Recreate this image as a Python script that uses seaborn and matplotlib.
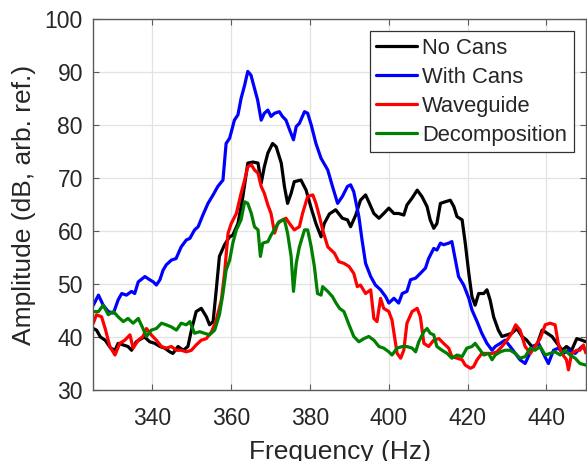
import matplotlib
matplotlib.use("Agg")
import matplotlib.pyplot as plt
import numpy as np
import pandas as pd
import seaborn as sns

freq_nocans = [325, 325.8, 326.8, 328, 329.4, 330.5, 331.3, 332.6, 333.8, 334.7, 335.9, 337.2, 338, 339.3,
               340.6, 341.9, 343.1, 344.4, 345.2, 346.5, 347.8, 349, 349.9, 351.1, 352.4, 353.7, 354.5, 355.4,
               356.2, 357, 358.3, 359.6, 360.4, 361.7, 362.9, 364.2, 365.5, 366.8, 367.6, 368.4, 369.3, 370.5,
               371.4, 372.7, 373.5, 374.3, 375.2, 376, 377.7, 379, 380.3, 381.5, 382.8, 383.6, 384.9, 386.5,
               388.2, 389.5, 390.3, 391.6, 392.8, 394.1, 394.9, 396.2, 397.5, 398.7, 400, 401.3, 402.5, 403.8,
               404.6, 405.9, 407.2, 408.4, 409.7, 410.5, 411.4, 412.2, 413.1, 414.3, 415.6, 416.5, 417.3, 418.6,
               419.4, 420.3, 421.1, 421.9, 422.8, 424.1, 424.9, 425.7, 426.6, 427.8, 428.7, 430, 431.2, 432.5,
               433.8, 435, 436.3, 437.6, 438.9, 440.2, 441.4, 442.7, 444, 445.1, 446.4, 447.7, 449, 450]
amp_nocans = [41.6, 41.3, 40.0, 39.4, 37.9, 37.5, 38.8, 38.5, 38.2, 37.5, 39.1, 39.7, 40.0, 39.1,
              38.8, 38.2, 37.9, 37.2, 36.9, 38.2, 37.5, 38.2, 41.3, 44.8, 45.4, 43.8, 42.3, 42.9,
              48.9, 55.2, 57.4, 58.9, 59.2, 61.4, 66.2, 72.8, 73.0, 72.8, 69.0, 72.1, 74.7, 76.5,
              75.9, 72.8, 68.4, 65.2, 67.1, 69.3, 69.6, 67.7, 64.3, 61.4, 58.9, 61.4, 63.2, 64.0,
              62.4, 62.1, 60.8, 63.0, 65.8, 66.8, 65.5, 63.3, 62.4, 63.3, 64.3, 63.3, 63.3, 63.0,
              64.9, 66.2, 67.7, 66.5, 64.6, 62.1, 60.5, 61.4, 65.2, 65.5, 65.8, 64.6, 62.7, 62.1,
              57.7, 52.0, 47.6, 46.0, 48.2, 48.2, 48.9, 47.0, 43.8, 41.3, 40.1, 40.4, 40.7, 41.6,
              40.1, 39.4, 38.2, 38.5, 41.3, 40.7, 40.1, 38.8, 37.5, 38.2, 37.5, 39.7, 39.4, 39.1]

freq_cans = [325, 326.3, 327.5, 328.8, 330.1, 331.3, 332.2, 333.4, 334.7, 335.5, 336.4, 338.1, 339.3, 340.2,
             341, 341.9, 342.7, 343.5, 344.8, 346, 347.3, 348.6, 349.5, 350.7, 351.6, 352.8, 354.1, 355.4,
             356.6, 357.9, 358.7, 359.6, 360.8, 361.7, 362.5, 363.4, 364.2, 365, 365.9, 366.7, 367.6, 368.4,
             369.3, 370.1, 371, 372.2, 373, 373.9, 374.8, 375.8, 376.5, 377.3, 378.6, 379.4, 380.3, 381.5,
             382.8, 384.5, 385.7, 387, 388.2, 389.5, 390.3, 391.1, 392.4, 393.2, 394.1, 395.4, 396.6, 397.9,
             399.2, 400, 401.3, 402.5, 403.4, 404.6, 405.5, 406.8, 408, 409.3, 410.1, 411.4, 412.2, 413.1,
             413.9, 415.2, 416, 416.9, 417.7, 419, 420.3, 421.1, 422.4, 423.6, 424.9, 426.2, 427, 428.3,
             429.5, 430.8, 432.1, 433.3, 434.6, 435.4, 436.7, 438, 439.2, 440.5, 441.8, 443, 444.3, 445.6,
             447.3, 449, 450]
amp_cans = [46.0, 47.9, 46.0, 44.8, 44.5, 47.0, 48.2, 47.9, 48.6, 48.2, 50.4, 51.4, 50.8, 50.4,
            49.8, 50.8, 52.6, 53.6, 54.5, 54.8, 57.0, 58.3, 58.6, 60.2, 60.8, 63.0, 65.2, 66.8,
            68.4, 69.6, 76.5, 77.5, 80.9, 81.9, 85.0, 87.5, 90.1, 89.4, 86.9, 84.7, 80.9, 82.2,
            82.8, 81.6, 82.2, 82.5, 81.6, 80.9, 79.1, 77.2, 79.7, 80.3, 82.5, 82.2, 80.0, 76.5,
            73.7, 71.5, 68.4, 65.2, 66.5, 68.4, 68.7, 67.4, 62.7, 58.3, 53.9, 51.4, 49.8, 48.9,
            47.6, 46.4, 47.3, 46.4, 48.2, 48.6, 50.8, 51.1, 52.0, 53.0, 54.8, 56.7, 56.4, 57.7,
            57.4, 57.7, 58.0, 54.5, 51.4, 49.8, 47.3, 45.1, 42.9, 40.7, 38.8, 37.5, 38.2, 38.8,
            39.4, 38.2, 36.9, 35.7, 35.0, 36.3, 38.2, 38.8, 36.9, 35.0, 37.5, 37.9, 36.9, 37.5,
            36.9, 38.2, 37.5]

freq_wave = [325, 325.8, 327.1, 328, 329.2, 330.5, 331.7, 333, 334.3, 335.1, 336.4, 337.6, 338.5, 339.7,
             341, 342.3, 343.5, 344.8, 346.1, 347.3, 348.6, 349.9, 351.1, 352.4, 353.7, 355, 356.2, 357.5,
             358.3, 359.2, 360, 361.3, 362.5, 363.4, 364.2, 365.1, 365.9, 366.8, 367.6, 368.4, 369.3, 370.1,
             371, 371.8, 373, 373.9, 374.8, 376, 377.3, 378.1, 379.4, 380.7, 381.5, 382.4, 383.2, 384.5,
             386.2, 387.3, 388.6, 389.9, 391.1, 392, 392.8, 394.1, 395.4, 396.2, 397, 397.9, 398.7, 400,
             400.8, 402.1, 403, 403.8, 404.6, 405.9, 407.2, 408, 408.9, 410.1, 411.4, 412.7, 413.9, 415.2,
             416, 417.3, 418.6, 419.4, 420.7, 421.5, 422.4, 423.6, 424.9, 426.2, 427.4, 428.7, 430, 431.2,
             432.2, 433.3, 434.6, 435.9, 437.1, 438.4, 439.7, 440.9, 442.2, 443, 443.9, 445.1, 445.6, 446.4,
             447.7, 448.5, 449.4, 450]
amp_wave = [42.6, 44.2, 43.8, 41.6, 38.2, 36.6, 38.8, 39.4, 40.4, 37.9, 39.4, 40.1, 41.6, 40.4,
            39.4, 38.2, 37.9, 38.2, 37.5, 37.5, 37.2, 37.5, 38.5, 39.4, 39.7, 41.0, 43.2, 47.0,
            52.0, 59.6, 61.4, 63.3, 67.1, 69.6, 72.1, 72.5, 71.5, 70.9, 68.4, 67.1, 64.9, 63.3,
            59.6, 61.4, 62.1, 62.4, 61.4, 60.2, 60.8, 63.3, 66.5, 66.8, 65.2, 62.7, 60.2, 57.0,
            55.8, 54.2, 53.9, 53.3, 52.0, 49.5, 49.8, 48.2, 48.9, 43.5, 42.9, 47.3, 45.4, 44.8,
            43.2, 36.9, 36.0, 37.5, 42.6, 44.8, 45.4, 43.8, 38.8, 38.2, 39.4, 39.7, 38.8, 37.9,
            36.3, 36.0, 35.7, 34.7, 34.1, 34.4, 35.7, 36.9, 36.9, 36.9, 37.2, 38.2, 39.4, 40.7,
            42.3, 41.3, 38.2, 36.9, 38.2, 39.7, 42.3, 42.6, 42.3, 38.8, 36.9, 35.7, 33.8, 36.9,
            37.5, 37.5, 38.5, 37.0]

freq_decomp = [325, 326.3, 327.5, 328.8, 330.1, 331.3, 332.6, 333.8, 335.1, 336.4, 337.6, 338.5, 339.7, 341,
               342.3, 343.5, 344.8, 346.1, 347.3, 348.6, 349.5, 350.7, 352, 353.2, 354.5, 355.8, 357, 357.9,
               358.7, 359.6, 360.4, 361.3, 362.5, 363.4, 364.2, 365.1, 365.9, 366.8, 367.4, 368, 369.3, 370.1,
               371.4, 372.2, 373.5, 374.3, 375.2, 375.8, 376.5, 377.3, 378.6, 379.4, 380.3, 381.1, 381.9, 382.8,
               383.2, 384.5, 385.7, 386.6, 387.5, 388.6, 389.9, 391.1, 392.4, 393.7, 394.9, 396.2, 397.5, 398.7,
               400, 400.8, 402.1, 403.4, 404.6, 405.9, 406.8, 407.6, 408.9, 409.7, 410.5, 411.4, 412.2, 413.5,
               414.8, 416, 417.3, 418.6, 419.8, 421.1, 421.9, 423.2, 424.1, 425.3, 426.2, 427, 428.3, 429.5,
               430.8, 432.1, 433.3, 434.6, 435.9, 437.1, 438.4, 439.7, 440.9, 442.2, 443.5, 444.7, 446, 447.3,
               448.5, 450]
amp_decomp = [44.8, 44.8, 46.0, 44.2, 44.8, 43.8, 42.9, 43.5, 42.6, 43.5, 41.6, 40.1, 41.3, 41.6,
              42.6, 42.3, 41.9, 41.3, 42.6, 42.3, 42.9, 40.7, 41.0, 40.7, 40.4, 41.3, 44.2, 48.2,
              52.6, 54.5, 57.7, 60.2, 62.1, 65.5, 65.2, 63.3, 60.8, 60.2, 55.2, 57.7, 58.0, 59.2,
              60.8, 61.8, 62.1, 59.6, 55.2, 48.6, 53.9, 57.0, 60.2, 60.2, 57.0, 53.3, 48.2, 47.9,
              49.5, 48.6, 47.6, 46.4, 45.4, 44.8, 42.3, 40.1, 39.1, 39.7, 40.1, 39.4, 38.2, 37.9,
              37.2, 36.6, 37.9, 38.2, 38.2, 37.9, 37.2, 39.1, 41.0, 41.6, 40.7, 40.4, 38.2, 37.5,
              36.9, 36.0, 36.6, 36.3, 37.9, 38.2, 38.8, 37.5, 36.6, 36.9, 35.7, 36.6, 37.2, 37.5,
              37.5, 36.9, 36.0, 36.3, 37.9, 37.5, 38.2, 36.6, 36.9, 37.2, 36.6, 37.5, 36.6, 36.0,
              35.0, 34.7]

labels = ["No Cans", "With Cans", "Waveguide", "Decomposition"]
colors = ["black", (0, 0, 1), (1, 0, 0), (0, 0.5, 0)]

frames = []
for lab, f, a in zip(labels,
                     [freq_nocans, freq_cans, freq_wave, freq_decomp],
                     [amp_nocans, amp_cans, amp_wave, amp_decomp]):
    frames.append(pd.DataFrame({"freq": f, "amp": a, "series": lab}))
df = pd.concat(frames, ignore_index=True)

sns.set_theme(style="ticks")
plt.rcParams['font.family'] = ['Liberation Sans', 'DejaVu Sans']

fig = plt.figure(figsize=(5.87, 4.61), dpi=100)
ax = fig.add_axes([0.159, 0.154, 0.839, 0.805])

sns.lineplot(data=df, x="freq", y="amp", hue="series", hue_order=labels,
             palette=colors, estimator=None, sort=False, linewidth=2.3, ax=ax)

ax.set_xlim(325, 450)
ax.set_ylim(30, 100)
ax.set_xticks([340, 360, 380, 400, 420, 440])
ax.set_yticks([30, 40, 50, 60, 70, 80, 90, 100])
ax.grid(True, color="#e3e3e3", linewidth=0.9)
ax.set_axisbelow(True)
for s in ax.spines.values():
    s.set_visible(True)
    s.set_color("#5a5a5a")
    s.set_linewidth(1.0)
ax.tick_params(direction="in", length=4, width=0.8, color="#5a5a5a",
               top=True, right=True, labelsize=16.5, labelcolor="#262626")
ax.tick_params(axis="x", pad=12)
ax.tick_params(axis="y", pad=7.5)
ax.set_xlabel("Frequency (Hz)", fontsize=19, color="#262626", labelpad=7.5)
ax.set_ylabel("Amplitude (dB, arb. ref.)", fontsize=19, color="#262626", labelpad=6)

leg = ax.legend(loc="upper right", fontsize=15.8, frameon=True, fancybox=False,
                edgecolor="#333333", framealpha=1, handlelength=1.85,
                handletextpad=0.25, borderpad=0.3, labelspacing=0.37,
                borderaxespad=0.55)
leg.get_frame().set_linewidth(0.9)
for line in leg.get_lines():
    line.set_linewidth(2.3)

fig.savefig("out.png", dpi=100)
